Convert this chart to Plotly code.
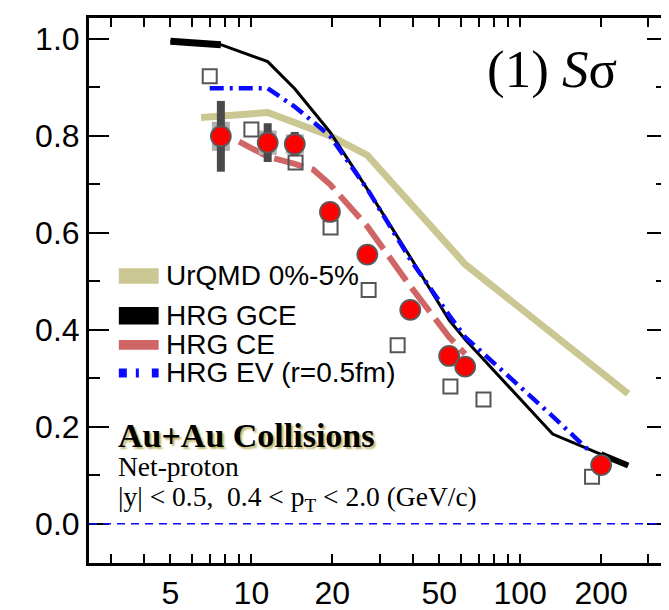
import math
import plotly.graph_objects as go

# ---- data ----
energy = [7.7, 11.5, 14.5, 19.6, 27, 39, 54.4, 62.4, 200]
s_sigma = [0.799, 0.786, 0.783, 0.643, 0.555, 0.441, 0.346, 0.324, 0.121]
stat_err = [0.073, 0.040, 0.025, 0.012, 0.010, 0.010, 0.006, 0.006, 0.005]
sys_err = [0.030, 0.025, 0.020, 0.015, 0.010, 0.010, 0.008, 0.008, 0.006]

sq_x = [7.0, 10.0, 14.6, 19.7, 27.3, 35.0, 55.0, 73.0, 185.0]
sq_y = [0.923, 0.813, 0.745, 0.611, 0.482, 0.368, 0.283, 0.256, 0.097]

urqmd_x = [6.5, 11.5, 19.6, 27, 62.4, 252]
urqmd_y = [0.838, 0.848, 0.800, 0.760, 0.535, 0.268]

gce_x = [5.0, 7.7, 11.5, 14.5, 19.6, 27, 39, 54.4, 62.4, 132, 200, 252]
gce_y = [0.995, 0.988, 0.953, 0.897, 0.808, 0.690, 0.550, 0.420, 0.380, 0.185, 0.143, 0.120]

ev_x = [7.0, 11.5, 14.5, 19.6, 27, 39, 54.4, 62.4, 130, 185]
ev_y = [0.898, 0.898, 0.860, 0.800, 0.690, 0.545, 0.430, 0.385, 0.225, 0.145]

ce_x = [9.0, 11.5, 14.5, 17.0, 19.6, 27, 39, 54.4, 62.4]
ce_y = [0.788, 0.757, 0.742, 0.730, 0.700, 0.613, 0.490, 0.385, 0.350]

x_tick_vals = [5, 10, 20, 50, 100, 200]
x_minor_vals = [3, 4, 6, 7, 8, 9, 30, 40, 60, 70, 80, 90, 300]
x_long_ticks = [10, 100]

legend_labels = ["UrQMD 0%-5%", "HRG GCE", "HRG CE", "HRG EV (r=0.5fm)"]

KHAKI = "#cbc793"
BLACK = "#000000"
SALMON = "#d06565"
BLUE = "#0a0aff"
SANS = "Arial, Liberation Sans, sans-serif"
SERIF = "Times New Roman, Liberation Serif, serif"

fig = go.Figure()

fig.add_trace(go.Scatter(x=urqmd_x, y=urqmd_y, mode="lines",
                         line=dict(color=KHAKI, width=7)))
fig.add_trace(go.Scatter(x=gce_x, y=gce_y, mode="lines",
                         line=dict(color=BLACK, width=3)))
fig.add_trace(go.Scatter(x=gce_x[:2], y=gce_y[:2], mode="lines",
                         line=dict(color=BLACK, width=7)))
fig.add_trace(go.Scatter(x=gce_x[-2:], y=gce_y[-2:], mode="lines",
                         line=dict(color=BLACK, width=6)))
fig.add_trace(go.Scatter(x=ev_x, y=ev_y, mode="lines",
                         line=dict(color=BLUE, width=4.5, dash="14px,6px,3px,6px")))
fig.add_trace(go.Scatter(x=ce_x, y=ce_y, mode="lines",
                         line=dict(color=SALMON, width=6, dash="30px,9px")))

# systematic errors (light gray)
fig.add_trace(go.Scatter(x=energy, y=s_sigma, mode="markers",
                         marker=dict(size=1, color="rgba(0,0,0,0)"),
                         error_y=dict(type="data", array=sys_err, color="#b0b0b0",
                                      thickness=18, width=0)))
# statistical errors (dark gray)
fig.add_trace(go.Scatter(x=energy, y=s_sigma, mode="markers",
                         marker=dict(size=1, color="rgba(0,0,0,0)"),
                         error_y=dict(type="data", array=stat_err, color="#4a4a4a",
                                      thickness=8, width=0)))
# open squares
fig.add_trace(go.Scatter(x=sq_x, y=sq_y, mode="markers",
                         marker=dict(symbol="square-open", size=14, color="#555555",
                                     line=dict(width=2, color="#555555"))))
# red data points
fig.add_trace(go.Scatter(x=energy, y=s_sigma, mode="markers",
                         marker=dict(symbol="circle", size=20, color="#ff0000",
                                     line=dict(width=1.8, color="#5a5a5a"))))

# zero reference line
fig.add_hline(y=0, line=dict(color=BLUE, width=1.5, dash="8px,6px"))

# longer decade ticks at 10 and 100 (bottom and top)
H = 562.0
for v in x_long_ticks:
    lv = math.log10(v)
    fig.add_shape(type="line", xref="x", yref="paper", x0=lv, x1=lv, y0=0, y1=19 / H,
                  line=dict(color="black", width=2))
    fig.add_shape(type="line", xref="x", yref="paper", x0=lv, x1=lv, y0=1, y1=1 - 19 / H,
                  line=dict(color="black", width=2))

# manual legend
W = 581.0
def px(xp):
    return (xp - 81) / W
def py(yp):
    return (571 - yp) / H

sw_x0, sw_x1 = px(111), px(151)
fig.add_shape(type="rect", xref="paper", yref="paper", x0=sw_x0, x1=sw_x1,
              y0=py(283), y1=py(267), fillcolor=KHAKI, line=dict(width=0))
fig.add_shape(type="rect", xref="paper", yref="paper", x0=sw_x0, x1=sw_x1,
              y0=py(325), y1=py(307), fillcolor=BLACK, line=dict(width=0))
fig.add_shape(type="rect", xref="paper", yref="paper", x0=sw_x0, x1=sw_x1,
              y0=py(351), y1=py(341), fillcolor=SALMON, line=dict(width=0))
fig.add_shape(type="line", xref="paper", yref="paper", x0=sw_x0, x1=sw_x1,
              y0=py(375), y1=py(375),
              line=dict(color=BLUE, width=9, dash="8px,9px,3px,13px"))

for label, yc in zip(legend_labels, [275, 316, 346, 375]):
    fig.add_annotation(xref="paper", yref="paper", x=px(156), y=py(yc),
                       xanchor="left", yanchor="middle", showarrow=False,
                       text=label, font=dict(family=SANS, size=28, color="black"))

# text labels
fig.add_annotation(xref="paper", yref="paper", x=px(546), y=py(62),
                   xanchor="center", yanchor="middle", showarrow=False,
                   text="(1) <i>S</i>σ", font=dict(family=SERIF, size=53, color="black"))
fig.add_annotation(xref="paper", yref="paper", x=px(108), y=py(440),
                   xanchor="left", yanchor="middle", showarrow=False,
                   text="<b>Au+Au Collisions</b>",
                   font=dict(family=SERIF, size=34, color="black",
                             shadow="2px 2px 2px rgb(190,178,100)"))
fig.add_annotation(xref="paper", yref="paper", x=px(108), y=py(472),
                   xanchor="left", yanchor="middle", showarrow=False,
                   text="Net-proton", font=dict(family=SERIF, size=27.5, color="black"))
fig.add_annotation(xref="paper", yref="paper", x=px(108), y=py(505),
                   xanchor="left", yanchor="middle", showarrow=False,
                   text="|y| < 0.5,  0.4 < p<sub>T</sub> < 2.0 (GeV/c)",
                   font=dict(family=SERIF, size=27.5, color="black"))

axis_common = dict(showline=True, linewidth=3, linecolor="black", mirror="allticks",
                   ticks="inside", tickwidth=2, tickcolor="black", showgrid=False,
                   zeroline=False, tickfont=dict(family=SANS, size=32, color="black"))

fig.update_layout(
    width=669, height=610,
    margin=dict(l=81, r=7, t=9, b=39),
    paper_bgcolor="white", plot_bgcolor="white",
    showlegend=False,
    xaxis=dict(type="log", range=[0.396, 2.546],
               tickmode="array", tickvals=x_tick_vals,
               ticktext=[str(v) for v in x_tick_vals], ticklen=9,
               minor=dict(tickmode="array", tickvals=x_minor_vals, ticks="inside",
                          ticklen=9, tickwidth=2, tickcolor="black", showgrid=False),
               **axis_common),
    yaxis=dict(range=[-0.081, 1.043], tick0=0, dtick=0.2, tickformat=".1f",
               ticklen=20,
               minor=dict(dtick=0.1, ticks="inside", ticklen=11, tickwidth=2,
                          tickcolor="black", showgrid=False),
               **axis_common),
)

fig.write_html("out.html")
